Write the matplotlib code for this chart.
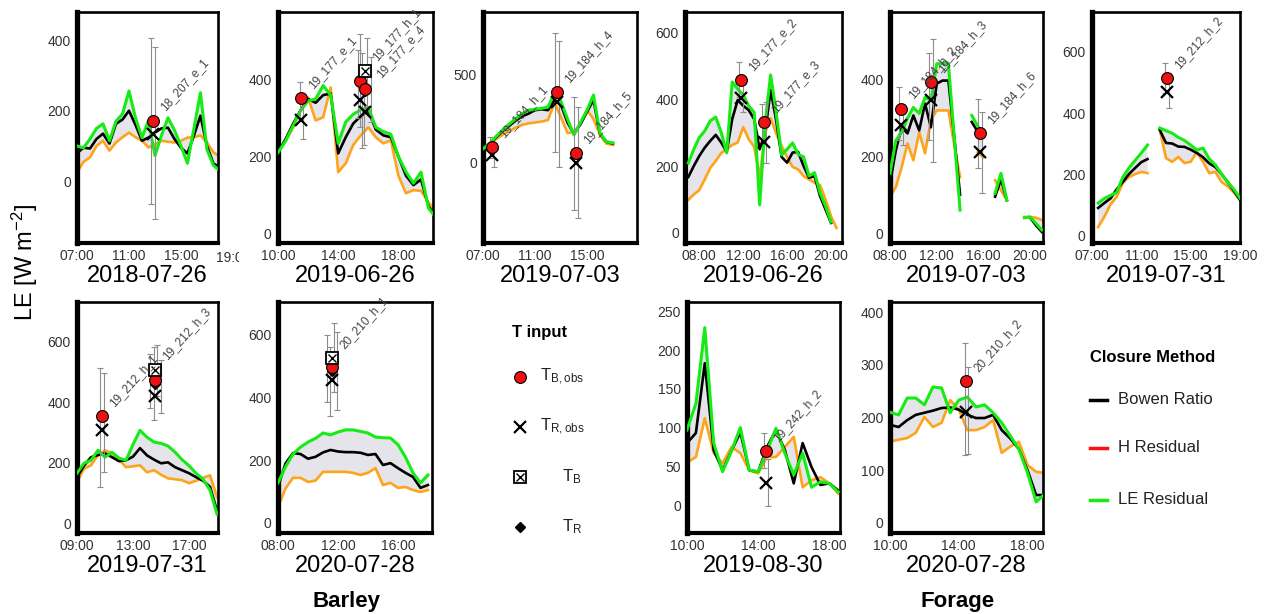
import numpy as np
import matplotlib
matplotlib.use("Agg")
import matplotlib.pyplot as plt
from matplotlib.transforms import Bbox, TransformedBbox

plt.rcParams["font.family"] = ["Liberation Sans", "DejaVu Sans"]
plt.rcParams["mathtext.default"] = "regular"

nan = np.nan
W, H = 1267, 614

dates = ["2018-07-26", "2019-06-26", "2019-07-03", "2019-06-26", "2019-07-03",
         "2019-07-31", "2019-07-31", "2020-07-28", "2019-08-30", "2020-07-28"]

# half-hourly LE [W m-2]: green = LE residual, black = Bowen ratio, orange = H residual
t_p1 = np.arange(7.0, 18.01, 0.5)
green_p1 = [100, 95, 120, 150, 163, 115, 170, 191, 256, 180, 124, 172, 73, 130, 180, 145, 100, 51, 150, 251, 90, 45, 30]
black_p1 = [80, 95, 93, 120, 135, 107, 163, 175, 200, 160, 115, 124, 138, 150, 152, 120, 95, 79, 130, 186, 100, 50, 40]
orange_p1 = [25, 55, 68, 100, 115, 87, 110, 125, 138, 125, 115, 96, 105, 115, 112, 110, 115, 124, 125, 130, 110, 82, 70]

t_p2 = np.arange(10.0, 20.51, 0.5)
green_p2 = [210, 240, 280, 320, 345, 350, 385, 360, 234, 290, 310, 322, 328, 276, 265, 258, 200, 160, 130, 159, 65, 40]
black_p2 = [210, 245, 285, 320, 350, 340, 360, 364, 208, 250, 286, 305, 320, 270, 255, 250, 200, 150, 125, 140, 70, 40]
orange_p2 = [215, 240, 275, 320, 354, 294, 302, 380, 159, 182, 230, 255, 276, 250, 234, 242, 150, 104, 112, 110, 80, 55]

t_p3 = np.arange(7.0, 17.01, 0.5)
green_p3 = [80, 110, 150, 187, 220, 250, 280, 300, 305, 310, 318, 397, 350, 250, 159, 230, 300, 386, 170, 120, 114]
black_p3 = [75, 105, 145, 180, 210, 240, 265, 280, 300, 305, 300, 358, 330, 230, 165, 220, 290, 358, 165, 120, 110]
orange_p3 = [70, 100, 135, 160, 180, 200, 216, 225, 230, 235, 244, 341, 260, 170, 176, 220, 301, 250, 159, 110, 102]

t_p4 = np.arange(7.0, 20.51, 0.5)
green_p4 = [209, 250, 285, 305, 335, 346, 300, 239, 451, 430, 412, 380, 360, 84, 330, 472, 360, 233, 250, 269, 235, 227, 170, 180, 120, 80, 33, nan]
black_p4 = [167, 200, 230, 255, 275, 293, 270, 242, 340, 397, 380, 367, 340, 250, 300, 427, 337, 227, 210, 240, 242, 200, 165, 170, 110, 70, 30, nan]
orange_p4 = [99, 115, 128, 160, 194, 215, 239, 250, 263, 270, 316, 280, 257, 167, 300, 343, 298, 260, 227, 197, 190, 170, 160, 150, 143, 100, 50, 15]

t_p5 = np.arange(8.0, 21.01, 0.5)
green_p5 = [156, 242, 263, 300, 328, 312, 354, 346, 442, 442, 442, 250, 60, nan, 307, 280, 255, nan, 104, 156, 86, nan, nan, 40, 42, 25, 8]
black_p5 = [130, 216, 276, 260, 307, 268, 338, 276, 390, 398, 398, 250, 100, nan, 290, 265, 250, nan, 95, 140, 86, nan, nan, nan, 40, 20, 3]
orange_p5 = [94, 120, 172, 234, 190, 263, 208, 294, 320, 320, 320, 230, 146, nan, nan, 211, 198, nan, 138, 112, 86, nan, nan, 42, 42, 40, 34]

t_p6 = np.arange(7.0, 19.01, 0.5)
green_p6 = [nan, 105, 120, 130, 140, 190, 220, 245, 269, 295, nan, 351, 342, 334, 320, 310, 295, 279, 285, 250, 230, 200, 174, 150, 121]
black_p6 = [nan, 89, 105, 120, 150, 174, 200, 220, 239, 249, nan, 344, 302, 300, 290, 289, 280, 269, 255, 235, 223, 200, 174, 145, 115]
orange_p6 = [nan, 26, 60, 100, 125, 171, 190, 200, 207, 203, nan, 344, 252, 240, 256, 236, 240, 272, 240, 203, 207, 174, 160, 140, 115]

t_p7 = np.arange(9.0, 19.01, 0.5)
green_p7 = [165, 198, 208, 241, 218, 234, 215, 208, 260, 307, 284, 268, 264, 255, 235, 210, 190, 165, 145, 109, 30]
black_p7 = [152, 190, 218, 225, 231, 218, 205, 208, 220, 248, 224, 210, 198, 201, 185, 175, 165, 152, 140, 120, 40]
orange_p7 = [135, 180, 191, 225, 241, 231, 210, 185, 188, 191, 168, 175, 160, 148, 145, 142, 132, 140, 150, 158, 86]

t_p8 = np.arange(8.0, 18.01, 0.5)
green_p8 = [128, 179, 220, 242, 258, 270, 287, 281, 290, 297, 297, 292, 287, 274, 272, 271, 250, 210, 160, 128, 153]
black_p8 = [115, 190, 223, 220, 205, 211, 225, 233, 228, 226, 226, 224, 217, 220, 185, 191, 175, 160, 147, 112, 121]
orange_p8 = [51, 110, 144, 144, 131, 135, 163, 163, 163, 163, 160, 153, 160, 175, 121, 128, 112, 115, 105, 99, 105]

t_p9 = np.arange(10.0, 18.51, 0.5)
green_p9 = [97, 131, 229, 80, 43, 70, 100, 45, 43, 70, 99, 67, 39, 67, 23, 30, 28, 17]
black_p9 = [80, 93, 183, 71, 45, 70, 94, 45, 43, 75, 97, 71, 28, 80, 49, 26, 28, 19]
orange_p9 = [55, 62, 112, 67, 54, 75, 67, 45, 41, 62, 62, 75, 88, 23, 32, 36, 28, 15]

t_p10 = np.arange(10.0, 19.01, 0.5)
green_p10 = [210, 205, 237, 237, 224, 258, 256, 209, 233, 239, 220, 224, 209, 190, 165, 140, 95, 40, 55]
black_p10 = [186, 182, 195, 205, 209, 213, 218, 219, 215, 205, 199, 199, 205, 176, 160, 140, 100, 53, 53]
orange_p10 = [154, 158, 161, 171, 201, 182, 190, 233, 215, 176, 176, 182, 195, 133, 145, 154, 110, 97, 95]

times = [t_p1, t_p2, t_p3, t_p4, t_p5, t_p6, t_p7, t_p8, t_p9, t_p10]
le_resid = [green_p1, green_p2, green_p3, green_p4, green_p5, green_p6, green_p7, green_p8, green_p9, green_p10]
bowen = [black_p1, black_p2, black_p3, black_p4, black_p5, black_p6, black_p7, black_p8, black_p9, black_p10]
h_resid = [orange_p1, orange_p2, orange_p3, orange_p4, orange_p5, orange_p6, orange_p7, orange_p8, orange_p9, orange_p10]

# site observations (value, lower, upper) per temperature input
site_panel = [0, 1, 1, 1, 2, 2, 2, 3, 3, 4, 4, 4, 5, 6, 6, 7, 8, 9]
site_name = ["18_207_e_1", "19_177_e_1", "19_177_e_4", "19_177_h_1", "19_184_h_1", "19_184_h_4",
             "19_184_h_5", "19_177_e_2", "19_177_e_3", "19_184_h_2", "19_184_h_3", "19_184_h_6",
             "19_212_h_2", "19_212_h_1", "19_212_h_3", "20_210_h_1", "19_242_h_2", "20_210_h_2"]
site_time = [12.85, 11.55, 15.45, 15.8, 7.7, 12.7, 14.15, 11.8, 13.9, 8.95, 11.5, 15.7,
             13.1, 10.8, 14.6, 11.6, 14.44, 14.44]
tb_obs = [172, 353, 398, 377, 91, 403, 57, 457, 331, 325, 395, 260, 515, 353, 475, 497, 70, 269]
tb_obs_lo = [-63, 300, 300, 276, 30, 62, -267, 405, 280, 242, 242, 169, 465, 119, 380, 386, 48, 129]
tb_obs_hi = [405, 395, 478, 520, 150, 738, 375, 510, 385, 380, 470, 351, 564, 515, 560, 600, 93, 341]
tr_obs = [135, 294, 346, 315, 45, 347, 0, 403, 272, 281, 346, 211, 469, 307, 422, 456, 28, 210]
tr_obs_lo = [-107, 245, 221, 230, -25, -23, -312, 361, 209, 230, 185, 104, 417, 168, 340, 341, -1, 130]
tr_obs_hi = [380, 340, 470, 420, 115, 693, 318, 450, 391, 330, 507, 315, 520, 498, 584, 561, 60, 296]
tb_mod = [nan, nan, nan, 424, nan, nan, nan, nan, nan, nan, nan, nan, nan, nan, 508, 527, nan, nan]
tb_mod_lo = [nan, nan, nan, 330, nan, nan, nan, nan, nan, nan, nan, nan, nan, nan, 420, 418, nan, nan]
tb_mod_hi = [nan, nan, nan, 510, nan, nan, nan, nan, nan, nan, nan, nan, nan, nan, 590, 638, nan, nan]
tr_mod = [nan, nan, nan, 372, nan, nan, nan, nan, nan, nan, nan, nan, nan, nan, 462, 485, nan, nan]
tr_mod_lo = [nan, nan, nan, 290, nan, nan, nan, nan, nan, nan, nan, nan, nan, nan, 366, 360, nan, nan]
tr_mod_hi = [nan, nan, nan, 460, nan, nan, nan, nan, nan, nan, nan, nan, nan, nan, 540, 609, nan, nan]

# panel boxes in pixels (x0, x1, y0, y1) and axis settings
boxes = [(77, 218, 12, 243), (278, 433, 12, 243), (483, 637, 12, 243), (685, 842, 12, 243),
         (890, 1043, 12, 243), (1092, 1240, 12, 243), (77, 218, 302, 533), (278, 432, 302, 533),
         (687, 840, 302, 533), (890, 1043, 302, 533)]
xlims = [(7, 17.85), (10, 20.3), (7, 18.85), (6.7, 21.0), (8, 21.1), (7, 19), (9, 19.07),
         (8, 18.27), (10, 18.6), (10, 18.9)]
ylims = [(-175, 480), (-26, 577), (-455, 858), (-30, 660), (-26, 577), (-26, 731), (-33, 732),
         (-32, 705), (-36, 262), (-19, 419)]
xticks = [[7, 11, 15], [10, 14, 18], [7, 11, 15], [8, 12, 16, 20], [8, 12, 16, 20],
          [7, 11, 15, 19], [9, 13, 17], [8, 12, 16], [10, 14, 18], [10, 14, 18]]
yticks = [[0, 200, 400], [0, 200, 400], [0, 500], [0, 200, 400, 600], [0, 200, 400],
          [0, 200, 400, 600], [0, 200, 400, 600], [0, 200, 400, 600],
          [0, 50, 100, 150, 200, 250], [0, 100, 200, 300, 400]]
# extra shift (points) for site labels that would sit on top of each other
label_nudge = {"19_177_e_4": (6.5, -4.5)}

GREEN = "#14ec14"
ORANGE = "#ffa31a"
RED = "#ee1111"
FILL = "#e4e4ea"
TICK = "#333333"

fig = plt.figure(figsize=(W / 100, H / 100), dpi=100)
axes = []
for i, (x0, x1, y0, y1) in enumerate(boxes):
    ax = fig.add_axes([x0 / W, 1 - y1 / H, (x1 - x0) / W, (y1 - y0) / H])
    t = times[i]
    g = np.array(le_resid[i], float)
    b = np.array(bowen[i], float)
    o = np.array(h_resid[i], float)
    ax.fill_between(t, o, g, color=FILL, lw=0, zorder=1)
    ax.plot(t, o, color=ORANGE, lw=1.9, zorder=2)
    ax.plot(t, b, color="black", lw=1.9, zorder=3)
    ax.plot(t, g, color=GREEN, lw=2.2, zorder=4)
    ax.set_xlim(xlims[i])
    ax.set_ylim(ylims[i])
    ax.set_xticks(xticks[i])
    ax.set_xticklabels([f"{h:02d}:00" for h in xticks[i]])
    ax.set_yticks(yticks[i])
    ax.tick_params(length=0, labelsize=10, labelcolor=TICK, pad=4.5)
    ax.set_xlabel(dates[i], fontsize=17, labelpad=1)
    for side, lw in (("left", 3.8), ("bottom", 3.0), ("top", 1.9), ("right", 1.9)):
        ax.spines[side].set_linewidth(lw)
    axes.append(ax)

# the 19:00 label of the first panel runs into the next panel's margin
lab = axes[0].text(19, -0.063, "19:00", transform=axes[0].get_xaxis_transform(),
                   ha="center", va="center", fontsize=10, color=TICK, clip_on=True)
lab.set_clip_path(None)
lab.set_clip_box(TransformedBbox(Bbox.from_extents(0, 0, 239 / W, 1), fig.transFigure))

for k in range(len(site_name)):
    p = site_panel[k]
    ax = axes[p]
    x0, x1 = boxes[p][0], boxes[p][1]
    xr = xlims[p]
    step = 3.5 * (xr[1] - xr[0]) / (x1 - x0)
    kinds = [(tb_obs[k], tb_obs_lo[k], tb_obs_hi[k]), (tr_obs[k], tr_obs_lo[k], tr_obs_hi[k]),
             (tb_mod[k], tb_mod_lo[k], tb_mod_hi[k]), (tr_mod[k], tr_mod_lo[k], tr_mod_hi[k])]
    present = [j for j, kd in enumerate(kinds) if not np.isnan(kd[0])]
    n = len(present)
    tk = site_time[k]
    for m, j in enumerate(present):
        v, lo, hi = kinds[j]
        xe = tk + (m - (n - 1) / 2) * step
        ax.errorbar(xe, v, yerr=[[v - lo], [hi - v]], fmt="none", ecolor="#8c8c8c",
                    elinewidth=0.8, capsize=2.2, capthick=0.8, zorder=5)
    ax.plot(tk, tr_obs[k], "x", ms=9, mew=1.6, color="black", zorder=6)
    if not np.isnan(tr_mod[k]):
        ax.plot(tk, tr_mod[k], "D", ms=5.5, color="black", zorder=7)
    ax.plot(tk, tb_obs[k], "o", ms=8.5, mfc=RED, mec="black", mew=0.8, zorder=8)
    if not np.isnan(tb_mod[k]):
        ax.plot(tk, tb_mod[k], "s", ms=8, mfc="white", mec="black", mew=1.3, zorder=9)
        ax.plot(tk, tb_mod[k], "x", ms=5.5, mew=1.0, color="black", zorder=10)
    top = max(kinds[j][0] for j in present)
    dx, dy = label_nudge.get(site_name[k], (0, 0))
    ax.annotate(site_name[k], (tk, top), xytext=(7 + dx, 8 + dy), textcoords="offset points",
                rotation=48, rotation_mode="anchor", ha="left", va="center",
                fontsize=8.5, color="#444444", zorder=11, annotation_clip=False)

fig.text(25 / W, 1 - 262 / H, r"LE [W m$^{-2}$]", rotation=90, fontsize=17,
         ha="center", va="center")
fig.text(347 / W, 1 - 602 / H, "Barley", fontsize=16, fontweight="bold", ha="center", va="center")
fig.text(958 / W, 1 - 602 / H, "Forage", fontsize=16, fontweight="bold", ha="center", va="center")

# legends drawn in pixel coordinates
lg = fig.add_axes([0, 0, 1, 1])
lg.set_xlim(0, W)
lg.set_ylim(H, 0)
lg.axis("off")

lg.text(540, 332, "T input", fontsize=12, fontweight="bold", ha="center", va="center")
lg.plot(520, 377, "o", ms=8.5, mfc=RED, mec="black", mew=0.8)
lg.plot(520, 427, "x", ms=9, mew=1.6, color="black")
lg.plot(520, 477, "s", ms=8, mfc="white", mec="black", mew=1.3)
lg.plot(520, 477, "x", ms=5.5, mew=1.0, color="black")
lg.plot(520, 527, "D", ms=5.5, color="black")
lg.text(540, 377, r"$T_{B,obs}$", fontsize=12, ha="left", va="center", color="#222222")
lg.text(540, 427, r"$T_{R,obs}$", fontsize=12, ha="left", va="center", color="#222222")
lg.text(562, 477, r"$T_{B}$", fontsize=12, ha="left", va="center", color="#222222")
lg.text(562, 527, r"$T_{R}$", fontsize=12, ha="left", va="center", color="#222222")

lg.text(1090, 358, "Closure Method", fontsize=12, fontweight="bold", ha="left", va="center")
for yy, col, name in ((400, "black", "Bowen Ratio"), (448, "#ff1010", "H Residual"),
                      (500, GREEN, "LE Residual")):
    lg.plot([1090, 1107], [yy, yy], color=col, lw=2.5)
    lg.text(1118, yy, name, fontsize=12, ha="left", va="center", color="#222222")

fig.savefig("out.png", dpi=100)
